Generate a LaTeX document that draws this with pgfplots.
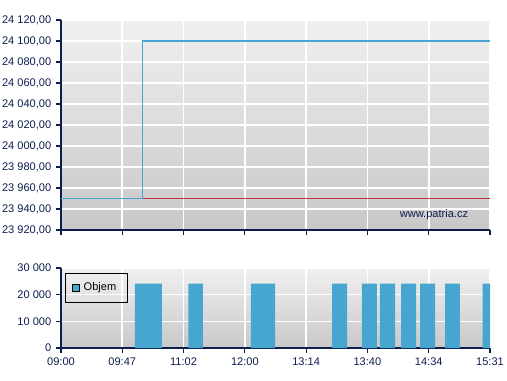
\documentclass[border=0pt]{standalone}
\usepackage{pgfplots}
\pgfplotsset{compat=1.18}
\usepackage{fontspec}
\setmainfont{Liberation Sans}
\definecolor{navy}{HTML}{0C1E4E}
\definecolor{barblue}{HTML}{46A6CF}
\definecolor{redline}{HTML}{C03535}
\definecolor{bgtop}{HTML}{F0F0F0}
\definecolor{bgbot}{HTML}{C8C8C8}
\pgfplotsset{
  common/.style={
    scale only axis, width=321.75pt,
    xmin=0, xmax=7,
    axis lines*=left,
    axis line style={navy, line width=0.9pt},
    tick style={navy, line width=0.9pt},
    tick align=outside,
    major tick length=3.75pt,
    grid=major,
    grid style={white, line width=1.2pt},
    axis background/.style={shade, top color=bgtop, bottom color=bgbot},
    ticklabel style={font=\fontsize{8.3}{9.5}\selectfont, text=navy},
    /pgf/number format/assume math mode=true,
    xtick={0,1,2,3,4,5,6,7},
    scaled y ticks=false,
    clip=true,
    axis on top=false,
  }
}
\begin{document}
\begin{tikzpicture}[x=1pt,y=1pt]
\path[use as bounding box] (0,0) rectangle (380.25,285);
\begin{axis}[common,
  at={(45.75pt,112.5pt)}, anchor=south west,
  height=157.5pt,
  ymin=23920, ymax=24120,
  ytick={23920,23940,...,24120},
  xticklabels={},
  /pgf/number format/fixed,
  /pgf/number format/fixed zerofill,
  /pgf/number format/precision=2,
  /pgf/number format/use comma,
  /pgf/number format/1000 sep={\ },
]
\addplot[redline, line width=0.9pt] coordinates {(1.325,23950) (7,23950)};
\addplot[barblue, line width=1pt] coordinates {(0,23950) (1.325,23950) (1.325,24100) (7,24100)};
\node[anchor=base east, font=\fontsize{8.3}{9.5}\selectfont, text=navy] at (axis cs:6.72,23932) {www.patria.cz};
\end{axis}
\begin{axis}[common,
  at={(45.75pt,24pt)}, anchor=south west,
  height=60pt,
  ymin=0, ymax=30000,
  ytick={0,10000,20000,30000},
  /pgf/number format/fixed,
  /pgf/number format/1000 sep={\ },
  xticklabels={09:00,09:47,11:02,12:00,13:14,13:40,14:34,15:31},
  legend style={at={(axis description cs:0,1)}, anchor=north west, xshift=3pt, yshift=-3.75pt, draw=black, fill=none, font=\fontsize{8.3}{9.5}\selectfont, inner xsep=5pt, inner ysep=5pt, line width=0.7pt, nodes={inner xsep=3pt}},
  legend image code/.code={\draw[fill=barblue, draw=black, line width=0.5pt] (0pt,-2.6pt) rectangle (5.2pt,2.6pt);},
]
\addplot[fill=barblue, draw=none] coordinates {(1.207,0) (1.207,24100) (1.648,24100) (1.648,0)} \closedcycle;
\addlegendentry{Objem}
\addplot[fill=barblue, draw=none, forget plot] coordinates {(2.077,0) (2.077,24100) (2.317,24100) (2.317,0)} \closedcycle;
\addplot[fill=barblue, draw=none, forget plot] coordinates {(3.100,0) (3.100,24100) (3.492,24100) (3.492,0)} \closedcycle;
\addplot[fill=barblue, draw=none, forget plot] coordinates {(4.422,0) (4.422,24100) (4.667,24100) (4.667,0)} \closedcycle;
\addplot[fill=barblue, draw=none, forget plot] coordinates {(4.911,0) (4.911,24100) (5.156,24100) (5.156,0)} \closedcycle;
\addplot[fill=barblue, draw=none, forget plot] coordinates {(5.205,0) (5.205,24100) (5.450,24100) (5.450,0)} \closedcycle;
\addplot[fill=barblue, draw=none, forget plot] coordinates {(5.548,0) (5.548,24100) (5.793,24100) (5.793,0)} \closedcycle;
\addplot[fill=barblue, draw=none, forget plot] coordinates {(5.858,0) (5.858,24100) (6.103,24100) (6.103,0)} \closedcycle;
\addplot[fill=barblue, draw=none, forget plot] coordinates {(6.266,0) (6.266,24100) (6.510,24100) (6.510,0)} \closedcycle;
\addplot[fill=barblue, draw=none, forget plot] coordinates {(6.881,0) (6.881,24100) (7.2,24100) (7.2,0)} \closedcycle;
\end{axis}
\end{tikzpicture}
\end{document}
